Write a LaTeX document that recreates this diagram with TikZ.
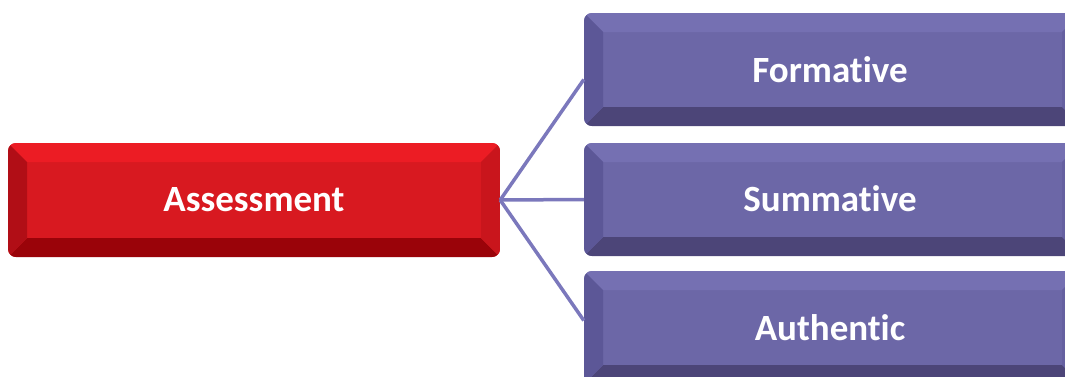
\documentclass[tikz,border=0pt]{standalone}
\usepackage{fontspec}
\setmainfont{Carlito}[Ligatures={NoCommon,NoRequired,NoContextual}]
\definecolor{rTop}{HTML}{EC1C24}
\definecolor{rMain}{HTML}{D81920}
\definecolor{rLeft}{HTML}{B10E16}
\definecolor{rBot}{HTML}{9A0309}
\definecolor{rRight}{HTML}{C9151C}
\definecolor{pTop}{HTML}{7570B2}
\definecolor{pMain}{HTML}{6C67A7}
\definecolor{pLeft}{HTML}{5C5797}
\definecolor{pBot}{HTML}{4C4578}
\definecolor{pRight}{HTML}{6560A0}
\definecolor{linkc}{HTML}{7B78BC}
\tikzset{
  boxtext/.style={inner sep=0pt, font=\bfseries\fontsize{37}{42}\selectfont, text=white},
  link/.style={draw=linkc, line width=3.5pt}
}
% name, x1, y1, x2, y2, colour prefix, text, bevel
\newcommand\bevbox[8]{%
  \begin{scope}
    \clip[rounded corners=8pt] (#2,#3) rectangle (#4,#5);
    \fill[#6Main] (#2,#3) rectangle (#4,#5);
    \fill[#6Top] (#2,#3) -- (#4,#3) -- ({#4-#8},{#3+#8}) -- ({#2+#8},{#3+#8}) -- cycle;
    \fill[#6Bot] (#2,#5) -- (#4,#5) -- ({#4-#8},{#5-#8}) -- ({#2+#8},{#5-#8}) -- cycle;
    \fill[#6Left] (#2,#3) -- ({#2+#8},{#3+#8}) -- ({#2+#8},{#5-#8}) -- (#2,#5) -- cycle;
    \fill[#6Right] (#4,#3) -- ({#4-#8},{#3+#8}) -- ({#4-#8},{#5-#8}) -- (#4,#5) -- cycle;
  \end{scope}
  \node[boxtext, minimum width={(#4-#2)*1pt}, minimum height={(#5-#3)*1pt}] (#1) at ({(#2+#4)/2},{(#3+#5)/2}) {};
}
\begin{document}
\begin{tikzpicture}[x=1pt,y=-1pt]
\useasboundingbox (0,0) rectangle (1065,376);
\clip (0,0) rectangle (1065,376);
\bevbox{as}{8}{143}{500}{257}{r}{Assessment}{19}
\node[boxtext] (ast) at (254,200) {Assessment};
\bevbox{fo}{584}{13}{1081}{126}{p}{Formative}{19}
\node[boxtext] (fot) at (830,70) {Formative};
\bevbox{su}{584}{143}{1081}{256}{p}{Summative}{19}
\node[boxtext] (sut) at (830,199) {Summative};
\bevbox{au}{584}{271}{1081}{384}{p}{Authentic}{19}
\node[boxtext] (aut) at (830,328) {Authentic};
\draw[link] (as.east) -- ([yshift=-10pt]fo.west);
\draw[link] (as.east) -- (su.west);
\draw[link] (as.east) -- ([yshift=7pt]au.west);
\end{tikzpicture}
\end{document}
